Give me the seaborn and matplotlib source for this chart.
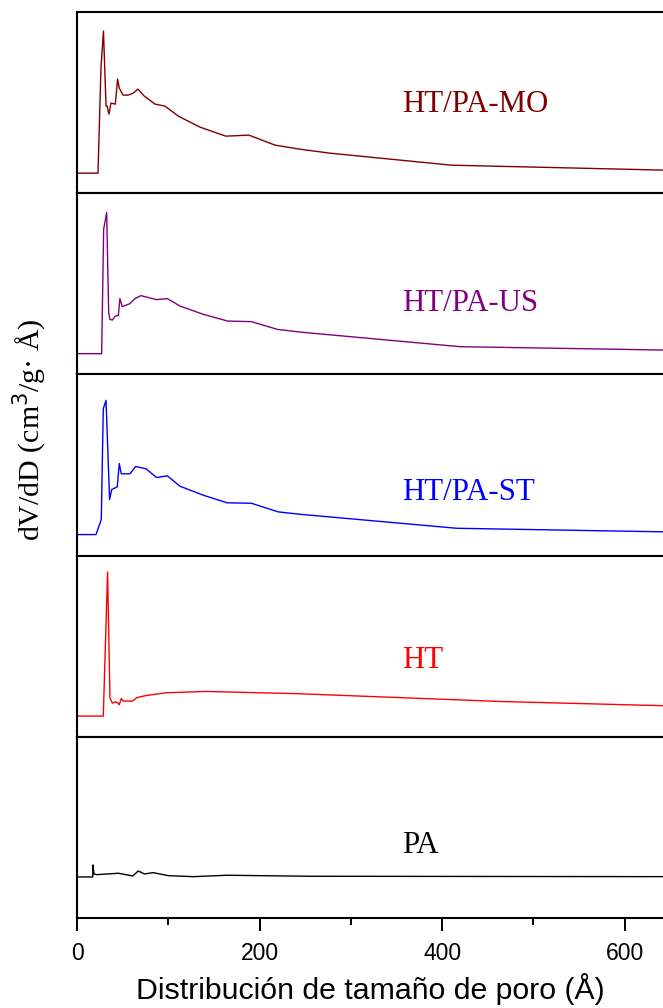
import numpy as np
import pandas as pd
import matplotlib
matplotlib.use("Agg")
import matplotlib.pyplot as plt
import seaborn as sns

# ---- data (pore size in Å, dV/dD in arbitrary units per panel) ----
pore_mo = [0, 23, 26.3, 29, 31.8, 33, 35, 37.2, 42, 44.5, 46.3, 50.4, 56.2, 61.7, 66.8, 73.7,
           85.4, 96.4, 111, 134.7, 163, 188.4, 217, 244, 277, 410, 645]
dvdd_mo = [20, 20, 126, 162, 87, 87, 79, 90, 89, 114, 105, 98, 98, 100, 104, 97,
           89, 87, 77, 66, 57, 58, 48, 44, 40, 28, 23]

pore_us = [0, 27, 29.2, 32.5, 34.7, 36, 38.7, 42, 45.3, 47, 49.6, 58, 63.5, 70, 87.2, 99,
           112.8, 138.4, 165, 191, 219.4, 244, 419.5, 645]
dvdd_us = [20.7, 20.7, 145, 161.7, 61.7, 55, 54.3, 58.3, 59, 75.7, 67.7, 70.7, 75.7, 78.7, 74.7, 75.7,
           68.3, 60, 53.3, 52.7, 45, 42.3, 27.7, 24.3]

pore_st = [0, 20.8, 26.6, 28.8, 31.8, 35.7, 38, 44.1, 46.3, 48.5, 58, 64.2, 75.6, 87.2, 99,
           112.8, 138.4, 164.6, 191, 220.3, 244, 416, 645]
dvdd_st = [21, 21, 36, 146.7, 155, 56, 66, 68.7, 92, 81.7, 81.7, 89, 86.7, 78, 79.7,
           69.3, 60.3, 52.7, 52.3, 43.7, 41.3, 27.3, 23.7]

pore_ht = [0, 28.8, 33.5, 36.1, 38.7, 42, 44.5, 46.3, 48.5, 50.7, 60.6, 66, 76.2, 98, 142,
           244, 463, 645]
dvdd_ht = [20.7, 20.7, 164.7, 38.7, 33.7, 35, 34, 32, 38.3, 35.7, 35.7, 39.3, 41.3, 44, 45.3,
           43, 35.3, 31]

pore_pa = [0, 17.2, 17.5, 18.6, 21.5, 45.3, 61, 67.2, 73.8, 83.6, 100, 127.4, 164, 255, 645]
dvdd_pa = [41, 41, 53, 44, 43.3, 44.7, 42, 47, 44, 45.3, 42.3, 41.3, 42.7, 41.7, 41.3]

samples = ["HT/PA-MO", "HT/PA-US", "HT/PA-ST", "HT", "PA"]
colors = ["#800000", "#800080", "#0000FF", "#FF0000", "#000000"]
xticks = [0, 200, 400, 600]

series = [(pore_mo, dvdd_mo), (pore_us, dvdd_us), (pore_st, dvdd_st),
          (pore_ht, dvdd_ht), (pore_pa, dvdd_pa)]

sns.set_style("white")
plt.rcParams["font.family"] = ["Liberation Serif", "DejaVu Serif"]
plt.rcParams["text.color"] = "black"
plt.rcParams["axes.labelcolor"] = "black"
plt.rcParams["xtick.color"] = "black"
plt.rcParams["ytick.color"] = "black"

fig = plt.figure(figsize=(6.63, 10.08), dpi=100)
left, right = 77 / 663, 1.0
top_px, bot_px = 12, 918
H = 1008
n = len(samples)
panel_h = (bot_px - top_px) / n

axes = []
for i, (name, col, (xs, ys)) in enumerate(zip(samples, colors, series)):
    y_top = top_px + i * panel_h
    ax = fig.add_axes([left, 1 - (y_top + panel_h) / H, right - left, panel_h / H])
    df = pd.DataFrame({"pore": xs, "dvdd": ys})
    sns.lineplot(data=df, x="pore", y="dvdd", ax=ax, color=col, linewidth=1.0)
    ax.set_xlim(0, 642)
    ax.set_ylim(0, 181)
    ax.set_yticks([])
    ax.set_xlabel("")
    ax.set_ylabel("")
    for s in ["left", "top", "bottom"]:
        ax.spines[s].set_linewidth(1.5)
        ax.spines[s].set_color("black")
    ax.spines["right"].set_visible(False)
    label_y = [0.49, 0.39, 0.35, 0.42, 0.40][i]
    ax.text(356, 181 * label_y, name, color=col, fontsize=22.2, va="center", ha="left",
            family=["Liberation Serif"])
    if i < n - 1:
        ax.set_xticks([])
    else:
        ax.set_xticks(xticks)
        ax.set_xticklabels([str(t) for t in xticks], family=["Liberation Sans"], fontsize=16.5,
                           color="black")
        ax.set_xticks([100, 300, 500], minor=True)
        ax.tick_params(axis="x", which="major", direction="out", length=9, width=1.4,
                       pad=8, bottom=True, colors="black")
        ax.tick_params(axis="x", which="minor", direction="out", length=5, width=1.4,
                       bottom=True, colors="black")
        ax.set_xlabel("Distribución de tamaño de poro (Å)", family=["Liberation Sans"],
                      fontsize=21.8, labelpad=6, color="black")
    axes.append(ax)

fig.text(30 / 663, 1 - 430 / H, "dV/dD (cm$^3$/g· Å)", rotation=90, va="center", ha="center",
         fontsize=21.5, family=["Liberation Serif"], color="black")

fig.savefig("out.png", dpi=100)
